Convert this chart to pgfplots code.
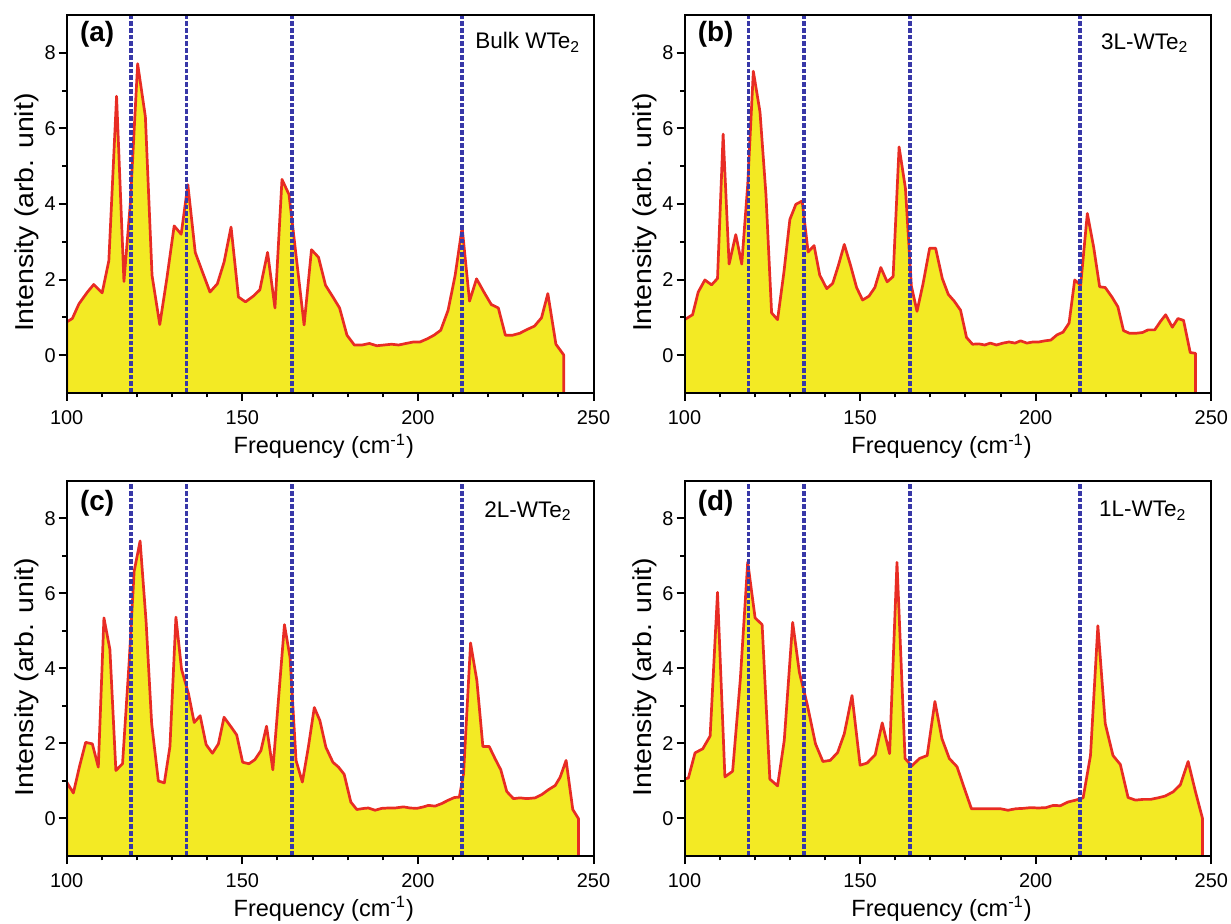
\documentclass[border=0pt]{standalone}
\usepackage{fontspec}
\setmainfont{Liberation Sans}
\usepackage{graphicx}
\usepackage{pgfplots}
\pgfplotsset{compat=1.18}
\usepackage{pgfplotstable}

\definecolor{wyellow}{RGB}{243,234,36}
\definecolor{wred}{RGB}{232,44,36}
\definecolor{wblue}{RGB}{56,56,168}

% spectra: first and last rows close the fill down to the bottom axis
\pgfplotstableread{
x y
100 -1
100 0.88
101.6 0.97
103.5 1.36
105.9 1.67
107.7 1.87
110.1 1.65
112.0 2.50
114.2 6.85
116.3 1.95
118.1 3.99
120.2 7.71
122.4 6.31
124.3 2.11
126.5 0.81
128.5 2.02
130.6 3.42
132.6 3.20
134.5 4.51
136.6 2.72
138.5 2.24
140.8 1.67
142.9 1.89
144.8 2.46
146.8 3.39
148.9 1.54
150.9 1.41
153.1 1.56
155.0 1.73
157.2 2.72
159.3 1.25
161.3 4.65
163.3 4.25
167.6 0.80
169.7 2.79
171.7 2.59
173.7 1.85
175.8 1.54
177.7 1.25
179.8 0.53
181.9 0.27
184.1 0.27
186.2 0.31
188.3 0.25
190.4 0.27
192.5 0.29
194.5 0.27
196.6 0.31
198.7 0.35
200.6 0.35
202.6 0.43
204.6 0.53
206.5 0.66
208.6 1.19
210.6 2.11
212.6 3.38
214.7 1.43
216.7 2.02
218.8 1.67
220.9 1.34
222.9 1.25
224.9 0.53
227.0 0.53
229.0 0.58
231.1 0.68
233.2 0.77
235.2 0.99
237.0 1.63
239.3 0.29
241.5 0.01
241.5 -1
}\dataA

\pgfplotstableread{
x y
100 -1
100 0.94
102.3 1.07
103.9 1.67
105.8 1.99
107.7 1.86
109.4 2.03
111.0 5.85
112.7 2.41
114.6 3.19
116.3 2.41
118.0 4.51
119.6 7.51
121.5 6.43
123.2 4.24
124.8 1.12
126.5 0.94
128.3 2.19
130.0 3.59
131.7 3.99
133.5 4.08
135.2 2.73
136.9 2.90
138.5 2.12
140.5 1.76
142.2 1.90
143.8 2.37
145.5 2.93
147.3 2.37
149.0 1.79
150.7 1.46
152.5 1.56
154.2 1.79
155.9 2.32
157.7 1.94
159.4 2.08
161.1 5.51
162.9 4.42
164.6 1.83
166.2 1.16
167.9 1.88
169.8 2.83
171.5 2.83
173.4 2.03
175.1 1.61
176.8 1.43
178.6 1.19
180.3 0.47
182.0 0.29
183.8 0.30
185.5 0.27
187.1 0.32
188.8 0.27
190.7 0.32
192.4 0.35
194.1 0.32
195.7 0.38
197.5 0.32
199.2 0.35
200.9 0.35
202.6 0.38
204.3 0.40
206.1 0.54
207.8 0.61
209.5 0.85
211.1 1.99
212.8 1.85
214.7 3.75
216.5 2.86
218.2 1.81
219.8 1.79
221.7 1.54
223.4 1.28
225.0 0.65
226.7 0.58
228.6 0.58
230.4 0.60
232.0 0.67
233.9 0.67
235.5 0.89
237.0 1.07
238.9 0.74
240.5 0.97
242.1 0.92
244.0 0.07
245.5 0.05
245.5 -1
}\dataB

\pgfplotstableread{
x y
100 -1
100 0.97
101.9 0.68
103.6 1.37
105.4 2.03
107.3 1.99
109.0 1.37
110.6 5.35
112.3 4.51
114.0 1.28
115.9 1.46
117.8 4.20
119.2 6.59
120.9 7.40
122.6 5.26
124.2 2.52
126.1 1.00
127.8 0.95
129.4 1.92
131.1 5.37
132.7 3.98
134.7 3.32
136.3 2.56
138.0 2.74
139.7 1.97
141.5 1.74
143.2 1.99
144.8 2.70
146.9 2.43
148.4 2.23
150.1 1.50
151.9 1.46
153.6 1.57
155.3 1.81
156.9 2.46
158.7 1.30
162.0 5.17
163.6 4.29
165.3 1.55
167.1 0.97
168.8 1.90
170.5 2.96
172.1 2.61
173.8 1.90
175.8 1.50
177.4 1.37
179.0 1.18
180.9 0.44
182.6 0.24
184.7 0.27
185.9 0.28
187.8 0.22
189.7 0.27
191.6 0.28
193.5 0.28
195.9 0.31
197.8 0.28
199.7 0.27
201.6 0.31
203.0 0.35
204.9 0.33
206.8 0.40
208.7 0.49
210.4 0.56
211.8 0.57
213.0 1.19
215.0 4.68
216.8 3.67
218.5 1.92
220.3 1.92
222.0 1.59
223.6 1.30
225.3 0.72
227.2 0.53
229.1 0.55
231.0 0.53
233.4 0.55
235.3 0.64
237.2 0.77
239.1 0.88
240.5 1.10
242.2 1.55
244.1 0.24
245.7 0.00
245.7 -1
}\dataC

\pgfplotstableread{
x y
100 -1
100 1.05
101.1 1.08
103.0 1.75
105.2 1.86
107.3 2.20
109.4 6.03
111.5 1.11
113.7 1.26
115.9 3.72
118.0 6.84
120.1 5.35
122.1 5.17
124.3 1.05
126.5 0.87
128.4 2.08
130.8 5.23
132.7 3.90
134.9 3.06
137.3 1.99
139.4 1.52
141.5 1.55
143.6 1.76
145.5 2.26
147.7 3.28
150.0 1.42
152.0 1.48
154.3 1.70
156.3 2.55
158.4 1.73
160.5 6.83
162.8 1.60
164.7 1.40
166.9 1.60
169.1 1.68
171.3 3.12
173.3 2.13
175.4 1.60
177.6 1.38
179.7 0.80
181.7 0.26
183.5 0.26
185.8 0.26
187.9 0.26
190.0 0.26
192.1 0.22
194.3 0.26
196.4 0.27
198.6 0.29
200.7 0.28
202.9 0.29
205.0 0.35
207.0 0.34
209.2 0.44
211.4 0.49
213.5 0.55
215.6 1.68
217.7 5.14
219.8 2.53
222.0 1.68
224.1 1.44
226.3 0.56
228.4 0.49
230.6 0.51
232.7 0.51
234.8 0.55
236.9 0.60
239.1 0.71
241.2 0.90
243.4 1.52
245.5 0.71
247.5 0.00
247.5 -1
}\dataD

\pgfplotsset{
  panel/.style={
    scale only axis,
    width=263.4bp,
    xmin=100, xmax=250, ymin=-1, ymax=9,
    xtick={100,150,200,250}, ytick={0,2,4,6,8},
    minor x tick num=4, minor y tick num=1,
    tick align=outside, xtick pos=bottom, ytick pos=left,
    major tick length=4bp, minor tick length=2.2bp,
    axis line style={line width=1bp},
    tick style={line width=1bp, black},
    axis on top,
    /pgf/number format/assume math mode=true,
    ticklabel style={font=\fontsize{10}{12}\selectfont},
    yticklabel style={xshift=2bp},
    xticklabel style={yshift=-1.5bp},
    xlabel={Frequency (cm\textsuperscript{-1})},
    ylabel={\scalebox{1.1}[1]{Intensity (arb. unit)}},
    xlabel style={font=\fontsize{11.8}{14}\selectfont,
      at={(axis description cs:0.488,-0.161)}, anchor=base},
    ylabel style={font=\fontsize{13}{15}\selectfont,
      at={(axis description cs:-0.0754,0.477)}, anchor=center},
    anchor=south west,
  },
  spec/.style={draw=wred, line width=1.35bp, line join=round, fill=wyellow},
  vline/.style={draw=wblue, line width=1.9bp, dash pattern=on 2.4bp off 1bp},
}

\begin{document}
\begin{tikzpicture}
\useasboundingbox (0,0) rectangle (615.5bp,462bp);

\begin{axis}[panel, height=189bp, at={(33.35bp,265.5bp)}]
\addplot[spec] table {\dataA};
\pgfplotsinvokeforeach{118.2,134.1,164.1,212.6}{\addplot[vline] coordinates {(#1,-1) (#1,9)};}
\node[anchor=west, font=\fontsize{14}{16}\selectfont\bfseries] at (rel axis cs:0.012,0.95) {(a)};
\node[anchor=east, font=\fontsize{11.3}{13}\selectfont] at (rel axis cs:0.988,0.927) {Bulk WTe\textsubscript{2}};
\end{axis}

\begin{axis}[panel, height=189bp, at={(342.25bp,265.5bp)}]
\addplot[spec] table {\dataB};
\pgfplotsinvokeforeach{118.2,134.1,164.1,212.6}{\addplot[vline] coordinates {(#1,-1) (#1,9)};}
\node[anchor=west, font=\fontsize{14}{16}\selectfont\bfseries] at (rel axis cs:0.012,0.95) {(b)};
\node[anchor=east, font=\fontsize{11.3}{13}\selectfont] at (rel axis cs:0.970,0.926) {3L-WTe\textsubscript{2}};
\end{axis}

\begin{axis}[panel, height=187.5bp, at={(33.35bp,34bp)}]
\addplot[spec] table {\dataC};
\pgfplotsinvokeforeach{118.2,134.1,164.1,212.6}{\addplot[vline] coordinates {(#1,-1) (#1,9)};}
\node[anchor=west, font=\fontsize{14}{16}\selectfont\bfseries] at (rel axis cs:0.012,0.94) {(c)};
\node[anchor=east, font=\fontsize{11.3}{13}\selectfont] at (rel axis cs:0.972,0.92) {2L-WTe\textsubscript{2}};
\end{axis}

\begin{axis}[panel, height=187.5bp, at={(342.25bp,34bp)}]
\addplot[spec] table {\dataD};
\pgfplotsinvokeforeach{118.2,134.1,164.1,212.6}{\addplot[vline] coordinates {(#1,-1) (#1,9)};}
\node[anchor=west, font=\fontsize{14}{16}\selectfont\bfseries] at (rel axis cs:0.012,0.94) {(d)};
\node[anchor=east, font=\fontsize{11.3}{13}\selectfont] at (rel axis cs:0.966,0.92) {1L-WTe\textsubscript{2}};
\end{axis}
\end{tikzpicture}
\end{document}
